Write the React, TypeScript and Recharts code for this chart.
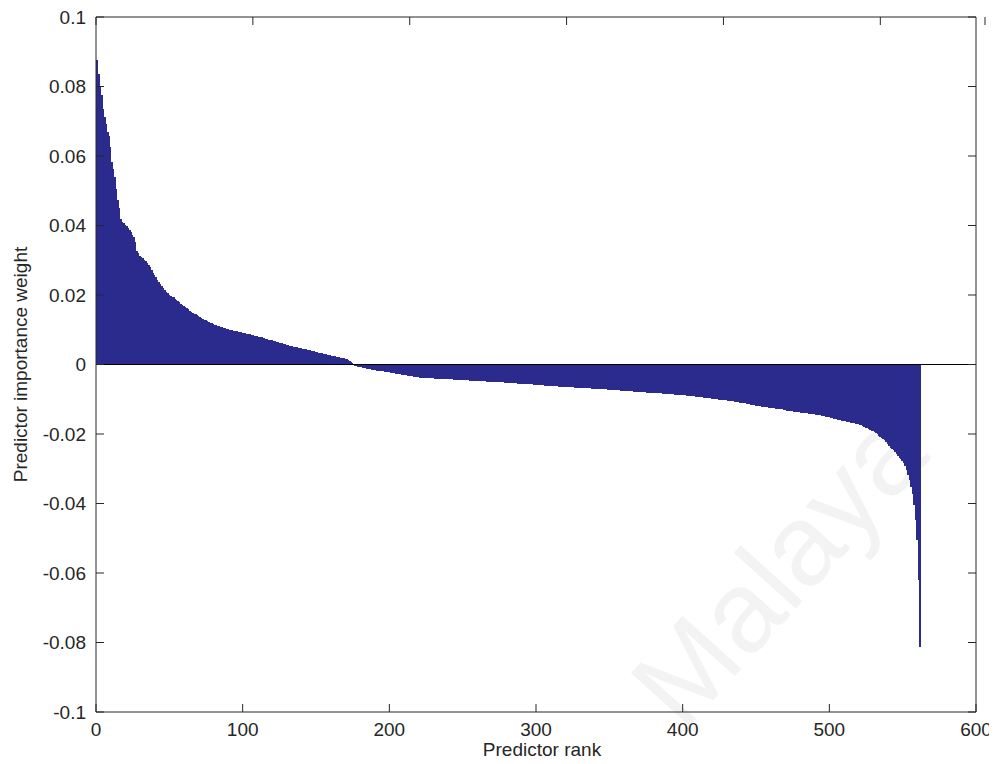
import React from 'react';
import { BarChart, Bar, XAxis, YAxis, ReferenceLine } from 'recharts';

const weights: number[] = [
  0.0876, 0.0835, 0.0800, 0.0775, 0.0735, 0.0712, 0.0690, 0.0668, 0.0655, 0.0625,
  0.0582, 0.0560, 0.0538, 0.0505, 0.0472, 0.0448, 0.0418, 0.0410, 0.0405, 0.0400,
  0.0397, 0.0392, 0.0386, 0.0379, 0.0372, 0.0366, 0.0352, 0.0325, 0.0318, 0.0312,
  0.0308, 0.0304, 0.0300, 0.0296, 0.0291, 0.0286, 0.0278, 0.0270, 0.0262, 0.0256,
  0.0250, 0.0243, 0.0236, 0.0230, 0.0224, 0.0218, 0.0212, 0.0207, 0.0203, 0.0199,
  0.0196, 0.0194, 0.0192, 0.0188, 0.0185, 0.0181, 0.0178, 0.0174, 0.0171, 0.0168,
  0.0165, 0.0161, 0.0157, 0.0153, 0.0150, 0.0147, 0.0145, 0.0143, 0.0140, 0.0137,
  0.0135, 0.0133, 0.0130, 0.0128, 0.0126, 0.0124, 0.0121, 0.0119, 0.0117, 0.0115,
  0.0113, 0.0111, 0.0110, 0.0108, 0.0107, 0.0106, 0.0104, 0.0103, 0.0102, 0.0100,
  0.0099, 0.0098, 0.0097, 0.0096, 0.0095, 0.0094, 0.0093, 0.0092, 0.0091, 0.0090,
  0.0089, 0.0088, 0.0087, 0.0086, 0.0085, 0.0084, 0.0083, 0.0082, 0.0081, 0.0080,
  0.0079, 0.0078, 0.0077, 0.0076, 0.0075, 0.0073, 0.0072, 0.0070, 0.0069, 0.0068,
  0.0066, 0.0065, 0.0063, 0.0062, 0.0061, 0.0060, 0.0059, 0.0058, 0.0057, 0.0056,
  0.0054, 0.0053, 0.0052, 0.0051, 0.0050, 0.0049, 0.0048, 0.0047, 0.0046, 0.0045,
  0.0044, 0.0043, 0.0042, 0.0041, 0.0040, 0.0039, 0.0038, 0.0037, 0.0036, 0.0035,
  0.0034, 0.0033, 0.0032, 0.0031, 0.0030, 0.0029, 0.0028, 0.0027, 0.0026, 0.0025,
  0.0024, 0.0023, 0.0022, 0.0021, 0.0020, 0.0019, 0.0018, 0.0017, 0.0016, 0.0015,
  0.0013, 0.0012, 0.0010, 0.0006, 0.0002, -0.0001, -0.0003, -0.0004, -0.0005, -0.0006,
  -0.0007, -0.0008, -0.0009, -0.0010, -0.0011, -0.0012, -0.0012, -0.0013, -0.0014, -0.0015,
  -0.0015, -0.0016, -0.0016, -0.0017, -0.0018, -0.0018, -0.0019, -0.0020, -0.0020, -0.0021,
  -0.0022, -0.0022, -0.0023, -0.0024, -0.0025, -0.0025, -0.0026, -0.0027, -0.0028, -0.0028,
  -0.0029, -0.0030, -0.0031, -0.0031, -0.0032, -0.0033, -0.0034, -0.0034, -0.0035, -0.0035,
  -0.0036, -0.0036, -0.0036, -0.0037, -0.0037, -0.0037, -0.0038, -0.0038, -0.0038, -0.0038,
  -0.0039, -0.0039, -0.0039, -0.0039, -0.0040, -0.0040, -0.0040, -0.0040, -0.0040, -0.0041,
  -0.0041, -0.0041, -0.0041, -0.0042, -0.0042, -0.0042, -0.0042, -0.0043, -0.0043, -0.0043,
  -0.0043, -0.0044, -0.0044, -0.0044, -0.0045, -0.0045, -0.0045, -0.0045, -0.0046, -0.0046,
  -0.0046, -0.0046, -0.0047, -0.0047, -0.0047, -0.0047, -0.0048, -0.0048, -0.0048, -0.0048,
  -0.0049, -0.0049, -0.0049, -0.0049, -0.0050, -0.0050, -0.0050, -0.0050, -0.0051, -0.0051,
  -0.0051, -0.0052, -0.0052, -0.0052, -0.0053, -0.0053, -0.0053, -0.0054, -0.0054, -0.0054,
  -0.0054, -0.0055, -0.0055, -0.0055, -0.0056, -0.0056, -0.0056, -0.0056, -0.0057, -0.0057,
  -0.0057, -0.0058, -0.0058, -0.0058, -0.0058, -0.0059, -0.0059, -0.0059, -0.0060, -0.0060,
  -0.0060, -0.0060, -0.0061, -0.0061, -0.0061, -0.0062, -0.0062, -0.0062, -0.0062, -0.0063,
  -0.0063, -0.0063, -0.0064, -0.0064, -0.0064, -0.0064, -0.0065, -0.0065, -0.0065, -0.0066,
  -0.0066, -0.0066, -0.0066, -0.0067, -0.0067, -0.0067, -0.0067, -0.0068, -0.0068, -0.0068,
  -0.0068, -0.0069, -0.0069, -0.0069, -0.0069, -0.0070, -0.0070, -0.0070, -0.0071, -0.0071,
  -0.0071, -0.0072, -0.0072, -0.0072, -0.0073, -0.0073, -0.0073, -0.0074, -0.0074, -0.0074,
  -0.0075, -0.0075, -0.0075, -0.0076, -0.0076, -0.0076, -0.0077, -0.0077, -0.0077, -0.0078,
  -0.0078, -0.0078, -0.0079, -0.0079, -0.0079, -0.0080, -0.0080, -0.0080, -0.0081, -0.0081,
  -0.0081, -0.0081, -0.0082, -0.0082, -0.0082, -0.0082, -0.0083, -0.0083, -0.0083, -0.0083,
  -0.0083, -0.0084, -0.0084, -0.0084, -0.0085, -0.0085, -0.0085, -0.0086, -0.0086, -0.0087,
  -0.0087, -0.0087, -0.0088, -0.0088, -0.0089, -0.0089, -0.0090, -0.0090, -0.0091, -0.0091,
  -0.0092, -0.0092, -0.0093, -0.0093, -0.0094, -0.0095, -0.0095, -0.0096, -0.0096, -0.0097,
  -0.0098, -0.0098, -0.0099, -0.0099, -0.0100, -0.0100, -0.0101, -0.0101, -0.0102, -0.0102,
  -0.0103, -0.0103, -0.0104, -0.0104, -0.0105, -0.0106, -0.0106, -0.0107, -0.0108, -0.0108,
  -0.0109, -0.0110, -0.0110, -0.0111, -0.0112, -0.0113, -0.0114, -0.0115, -0.0116, -0.0117,
  -0.0118, -0.0118, -0.0119, -0.0120, -0.0120, -0.0121, -0.0122, -0.0122, -0.0123, -0.0123,
  -0.0124, -0.0125, -0.0125, -0.0126, -0.0126, -0.0127, -0.0128, -0.0128, -0.0129, -0.0130,
  -0.0131, -0.0131, -0.0132, -0.0132, -0.0133, -0.0134, -0.0134, -0.0135, -0.0135, -0.0136,
  -0.0137, -0.0137, -0.0138, -0.0138, -0.0139, -0.0140, -0.0140, -0.0141, -0.0142, -0.0142,
  -0.0143, -0.0144, -0.0144, -0.0145, -0.0146, -0.0147, -0.0148, -0.0149, -0.0150, -0.0151,
  -0.0152, -0.0153, -0.0154, -0.0155, -0.0156, -0.0157, -0.0158, -0.0159, -0.0160, -0.0161,
  -0.0162, -0.0163, -0.0164, -0.0165, -0.0166, -0.0167, -0.0168, -0.0169, -0.0170, -0.0171,
  -0.0172, -0.0174, -0.0176, -0.0178, -0.0180, -0.0182, -0.0184, -0.0186, -0.0189, -0.0191,
  -0.0194, -0.0196, -0.0199, -0.0203, -0.0206, -0.0209, -0.0212, -0.0216, -0.0222, -0.0228,
  -0.0233, -0.0238, -0.0242, -0.0246, -0.0251, -0.0256, -0.0262, -0.0267, -0.0271, -0.0276,
  -0.0282, -0.0290, -0.0302, -0.0316, -0.0332, -0.0350, -0.0372, -0.0402, -0.0445, -0.0505,
  -0.0620, -0.0812,
];

const ranks: number[] = weights.map((_, i) => i + 1);

const xTicks: number[] = [0, 100, 200, 300, 400, 500, 600];
const xTickLabels: string[] = ['0', '100', '200', '300', '400', '500', '600'];
const yTicks: number[] = [-0.1, -0.08, -0.06, -0.04, -0.02, 0, 0.02, 0.04, 0.06, 0.08, 0.1];
const yTickLabels: string[] = ['-0.1', '-0.08', '-0.06', '-0.04', '-0.02', '0', '0.02', '0.04', '0.06', '0.08', '0.1'];

const data = ranks.map((r, i) => ({ rank: r, weight: weights[i] }));

const FONT = '"Liberation Sans", Arial, Helvetica, sans-serif';
const INK = '#262626';
const BAR = '#2b2a8d';
const FS = 19;
const TICK_LEN = 8;
const Y_GAP = 10;
const X_GAP = 11;

const labelFor = (ticks: number[], labels: string[], v: number) => {
  const idx = ticks.findIndex((t) => Math.abs(t - v) < 1e-9);
  return idx >= 0 ? labels[idx] : String(v);
};

const LeftTick = (props: any) => {
  const { x, y, payload } = props;
  const ax = x + Y_GAP;
  return (
    <g>
      <line x1={ax} y1={y} x2={ax + TICK_LEN} y2={y} stroke={INK} strokeWidth={1} />
      <text x={x} y={y} dy="0.355em" textAnchor="end" fontSize={FS} fill={INK} fontFamily={FONT}>
        {labelFor(yTicks, yTickLabels, payload.value)}
      </text>
    </g>
  );
};

const BottomTick = (props: any) => {
  const { x, y, payload } = props;
  const ay = y - X_GAP;
  return (
    <g>
      <line x1={x} y1={ay} x2={x} y2={ay - TICK_LEN} stroke={INK} strokeWidth={1} />
      <text x={x} y={y} dy="0.71em" textAnchor="middle" fontSize={FS} fill={INK} fontFamily={FONT}>
        {labelFor(xTicks, xTickLabels, payload.value)}
      </text>
    </g>
  );
};

const TopTick = (props: any) => {
  const { x, y } = props;
  return <line x1={x} y1={y} x2={x} y2={y + TICK_LEN} stroke={INK} strokeWidth={1} />;
};

const RightTick = (props: any) => {
  const { x, y } = props;
  return <line x1={x} y1={y} x2={x - TICK_LEN} y2={y} stroke={INK} strokeWidth={1} />;
};

export default function App() {
  const W = 989;
  const H = 756;
  return (
    <div style={{ position: 'relative', width: W, height: H }}>
      <svg width={W} height={H} style={{ position: 'absolute', left: 0, top: 0 }}>
        <text
          x={777}
          y={567}
          transform="rotate(-48 777 567)"
          textAnchor="middle"
          dominantBaseline="middle"
          fontSize={115}
          fontFamily={FONT}
          fill="#f3f3f3"
        >
          Malaya
        </text>
      </svg>
      <BarChart
        width={W}
        height={H}
        data={data}
        margin={{ top: 8, right: 20, left: 0, bottom: 0 }}
        barCategoryGap={0}
        barGap={0}
        style={{ fontFamily: FONT }}
      >
        <XAxis
          dataKey="rank"
          type="number"
          domain={[0, 600]}
          ticks={xTicks}
          allowDataOverflow
          height={52}
          tickSize={0}
          tickMargin={X_GAP}
          tickLine={false}
          tick={<BottomTick />}
          axisLine={{ stroke: INK }}
          label={{
            value: 'Predictor rank',
            position: 'insideBottom',
            offset: 8,
            dx: 6,
            style: { fontSize: FS, fill: INK, fontFamily: FONT },
          }}
        />
        <XAxis
          xAxisId="top"
          orientation="top"
          type="number"
          domain={[0, 600]}
          ticks={xTicks}
          allowDataOverflow
          height={1}
          tickSize={0}
          tickMargin={0}
          tickLine={false}
          tick={<TopTick />}
          axisLine={{ stroke: INK }}
        />
        <YAxis
          type="number"
          domain={[-0.1, 0.1]}
          ticks={yTicks}
          allowDataOverflow
          width={88}
          tickSize={0}
          tickMargin={Y_GAP}
          tickLine={false}
          tick={<LeftTick />}
          axisLine={{ stroke: INK }}
          label={{
            value: 'Predictor importance weight',
            angle: -90,
            position: 'insideLeft',
            offset: 12,
            style: { fontSize: FS, fill: INK, fontFamily: FONT, textAnchor: 'middle' },
          }}
        />
        <YAxis
          yAxisId="right"
          orientation="right"
          type="number"
          domain={[-0.1, 0.1]}
          ticks={yTicks}
          allowDataOverflow
          width={1}
          tickSize={0}
          tickMargin={0}
          tickLine={false}
          tick={<RightTick />}
          axisLine={{ stroke: INK }}
        />
        <Bar
          dataKey="weight"
          fill={BAR}
          stroke={BAR}
          strokeWidth={1}
          shapeRendering="crispEdges"
          isAnimationActive={false}
        />
        <ReferenceLine y={0} stroke="#000000" strokeWidth={1} />
      </BarChart>
    </div>
  );
}
